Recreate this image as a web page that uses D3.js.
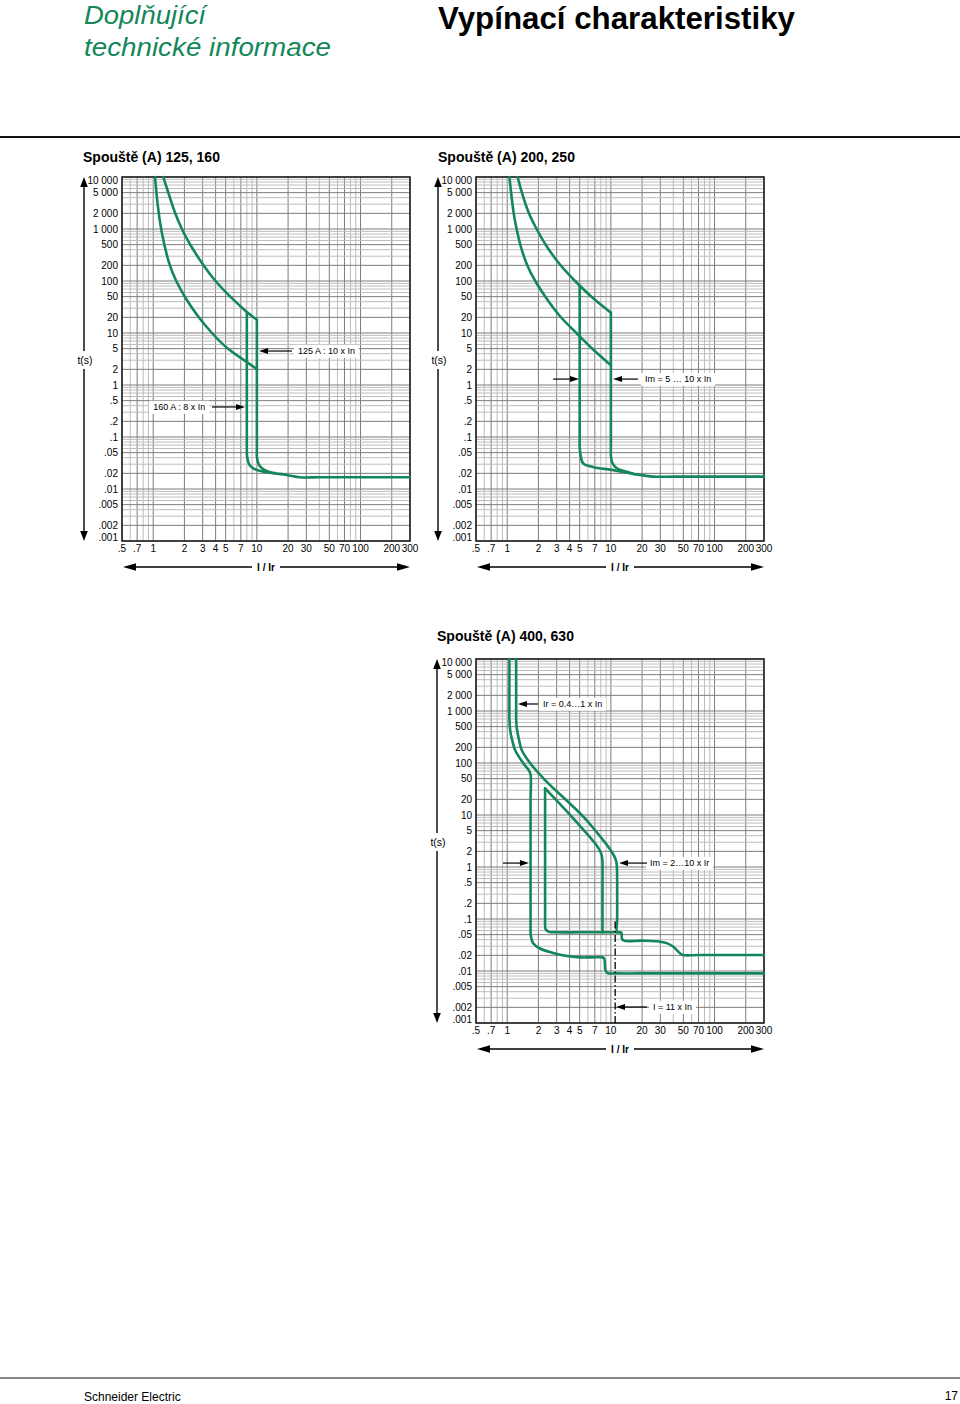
<!DOCTYPE html>
<html><head><meta charset="utf-8">
<script src="https://cdn.jsdelivr.net/npm/d3@7"></script>
<style>body{margin:0;background:#fff}svg{display:block}</style>
</head><body>
<svg id="c" width="960" height="1404"></svg>
<script>
// ---------- axis data ----------
const xDomain = [0.5, 300];
const yDomain = [0.001, 10000];
const xTickValues = [0.5,0.7,1,2,3,4,5,7,10,20,30,50,70,100,200,300];
const xTickLabels = [".5",".7","1","2","3","4","5","7","10","20","30","50","70","100","200","300"];
const yTickValues = [10000,5000,2000,1000,500,200,100,50,20,10,5,2,1,0.5,0.2,0.1,0.05,0.02,0.01,0.005,0.002,0.001];
const yTickLabels = ["10 000","5 000","2 000","1 000","500","200","100","50","20","10","5","2","1",".5",".2",".1",".05",".02",".01",".005",".002",".001"];
const chartTitles = ["Spouště (A) 125, 160","Spouště (A) 200, 250","Spouště (A) 400, 630"];

// ---------- curves: [I/Ir, t(s)] ----------
// chart 1 : 125, 160  (thermal curves are smooth splines)
const c1UpperThermal = [[1.25,10000],[1.4,5000],[1.62,2000],[1.88,1000],[2.26,500],[3.04,200],[3.94,100],[5.5,50],[8,25],[10,18]];
const c1LowerThermal = [[1.04,10000],[1.1,3000],[1.18,1000],[1.42,200],[1.66,100],[2.0,50],[2.72,20],[3.67,10],[5.1,5],[8,2.8],[10,2]];
const c1Magnetic8 = [[8,25],[8,10],[8,1],[8,0.1],[8,0.06],[8.05,0.042],[8.4,0.03],[9.2,0.025],[10.7,0.0225],[13.4,0.0206],[19.4,0.0186],[26,0.0168],[40,0.0168],[100,0.0168],[300,0.0168]];
const c1Magnetic10 = [[10,18],[10,5],[10,0.5],[10,0.06],[10,0.042],[10.4,0.03],[11.2,0.025],[13.4,0.021],[15,0.0202]];
// chart 2 : 200, 250
const c2UpperThermal = [[1.26,10000],[1.38,5000],[1.6,2000],[1.92,1000],[2.32,500],[3.23,200],[4.5,100],[6.4,50],[10,24.6]];
const c2LowerThermal = [[1.05,10000],[1.09,5000],[1.15,2000],[1.23,1000],[1.33,500],[1.54,200],[1.85,100],[2.32,50],[3.23,20],[4.68,10],[6.53,5],[10,2.4]];
const c2Magnetic5 = [[5,82],[5,10],[5,1],[5,0.1],[5,0.065],[5.1,0.045],[5.4,0.031],[6.8,0.0263],[10.2,0.0233],[16.5,0.0195],[25.7,0.0173],[40,0.0173],[100,0.0173],[300,0.0173]];
const c2Magnetic10 = [[10,24.6],[10,5],[10,0.5],[10,0.06],[10,0.045],[10.3,0.032],[11.4,0.025],[14.2,0.0214],[17,0.0193]];
// chart 3 : 400, 630
const c3LeftCurve = [[1.05,10000],[1.05,3000],[1.05,1000],[1.05,700],[1.07,420],[1.12,270],[1.19,178],[1.43,99],[1.62,72],[1.68,60],[1.68,20],[1.68,1],[1.68,0.1],[1.68,0.06],[1.69,0.048],[1.77,0.0346],[2.07,0.0271],[2.77,0.0222],[3.75,0.0194],[5.04,0.0183],[6.5,0.0183],[8.2,0.0183],[8.6,0.0175],[8.75,0.014],[8.85,0.0105],[9.3,0.0091],[11,0.009],[30,0.009],[300,0.009]];
const c3RightCurve = [[1.22,10000],[1.22,3000],[1.22,1000],[1.22,700],[1.24,450],[1.29,300],[1.38,178],[1.66,100],[2.32,47],[5.42,9.3],[8.3,3.4],[9.8,2.2],[10.8,1.6],[11.3,1.25],[11.45,0.9],[11.5,0.5],[11.5,0.1],[11.5,0.0555],[12.5,0.0555],[12.7,0.052],[12.8,0.042],[13.4,0.0383],[20,0.0383],[27.7,0.0372],[35,0.034],[40,0.0293],[46.5,0.0219],[49.3,0.0203],[70,0.0203],[300,0.0203]];
const c3InnerLeft = [[2.32,32.6],[2.32,10],[2.32,1],[2.32,0.1],[2.32,0.075],[2.36,0.062],[2.55,0.0565],[3,0.0555],[5,0.0555],[8,0.0555],[11.5,0.0555]];
const c3InnerDiag = [[2.32,32.6],[4.19,9.3],[7.3,2.6],[7.95,1.95],[8.2,1.6],[8.3,1.2],[8.3,0.5],[8.3,0.1],[8.3,0.0555]];
const c3Limit11 = [[11,0.09],[11,0.001]];

// ---------- annotations: text, t, arrow tail I, arrow head I, text start I ----------
const c1Notes = [
  {text:"125 A : 10 x In", t:4.5, tail:21.8, head:10.5, tx:24.9},
  {text:"160 A : 8 x In", t:0.378, tail:3.69, head:7.68, tx:1.0}
];
const c2Notes = [
  {text:"Im = 5 … 10 x In", t:1.3, tail:18.3, head:10.5, tx:21.3},
  {text:"", t:1.3, tail:2.77, head:4.93}
];
const c3Notes = [
  {text:"Ir = 0.4…1 x In", t:1364, tail:1.98, head:1.27, tx:2.21},
  {text:"Im = 2…10 x Ir", t:1.19, tail:22.3, head:12.0, tx:23.8},
  {text:"", t:1.19, tail:0.91, head:1.62},
  {text:"I = 11 x In", t:0.00203, tail:22.3, head:11.2, tx:25.5}
];

// ---------- drawing ----------
const GREEN = "#14875a";
const FONT = "'Liberation Sans', Arial, Helvetica, sans-serif";
const svg = d3.select("#c");

// header
svg.append("text").attr("x",84).attr("y",24).attr("fill",GREEN)
  .attr("font-family",FONT).attr("font-style","italic").attr("font-size",26)
  .attr("textLength",122).attr("lengthAdjust","spacingAndGlyphs").text("Doplňující");
svg.append("text").attr("x",84).attr("y",56).attr("fill",GREEN)
  .attr("font-family",FONT).attr("font-style","italic").attr("font-size",26)
  .attr("textLength",247).attr("lengthAdjust","spacingAndGlyphs").text("technické informace");
svg.append("text").attr("x",438).attr("y",29).attr("fill","#000")
  .attr("font-family",FONT).attr("font-weight","bold").attr("font-size",32)
  .attr("textLength",357).attr("lengthAdjust","spacingAndGlyphs").text("Vypínací charakteristiky");
svg.append("line").attr("x1",0).attr("x2",960).attr("y1",137).attr("y2",137).attr("stroke","#111").attr("stroke-width",2);

// footer
svg.append("line").attr("x1",0).attr("x2",960).attr("y1",1378).attr("y2",1378).attr("stroke","#111").attr("stroke-width",1.2);
svg.append("text").attr("x",84).attr("y",1401).attr("font-family",FONT).attr("font-size",12).text("Schneider Electric");
svg.append("text").attr("x",958).attr("y",1400).attr("text-anchor","end").attr("font-family",FONT).attr("font-size",12).text("17");

// grid values (all 1..9 multiples inside domains)
const gridX = [], gridY = [];
for (let k=-1;k<=2;k++) for (let m=1;m<=9;m++){const v=+(m*Math.pow(10,k)).toPrecision(3); if(v>=0.5&&v<=300) gridX.push(v);}
for (let k=-3;k<=4;k++) for (let m=1;m<=9;m++){const v=+(m*Math.pow(10,k)).toPrecision(3); if(v>=0.001&&v<=10000) gridY.push(v);}

function arrowHead(g, x, y, dir, len, half){ // dir: 1 = right, -1 = left
  g.append("path").attr("d",`M${x},${y}L${x-dir*len},${y-half}L${x-dir*len},${y+half}Z`).attr("fill","#000");
}
function vArrowHead(g, x, y, dir, len, half){ // dir: -1 up, 1 down
  g.append("path").attr("d",`M${x},${y}L${x-half},${y-dir*len}L${x+half},${y-dir*len}Z`).attr("fill","#000");
}

function drawPanel(p){
  const {x0,x1,y0,y1,title,titleX,titleY,axisX,thermal,curves,notes,limit} = p;
  const g = svg.append("g");
  const x = d3.scaleLog().domain(xDomain).range([x0,x1]);
  const y = d3.scaleLog().domain(yDomain).range([y1,y0]);
  const major = new Set(xTickValues.map(String));
  const majorY = new Set(yTickValues.map(String));

  g.append("text").attr("x",titleX).attr("y",titleY).attr("font-family",FONT)
    .attr("font-weight","bold").attr("font-size",14).text(title);

  // grid
  g.selectAll(".gx").data(gridX).join("line")
    .attr("x1",d=>x(d)).attr("x2",d=>x(d)).attr("y1",y0).attr("y2",y1)
    .attr("stroke",d=>major.has(String(d))?"#7d7d7d":"#bdbdbd").attr("stroke-width",1);
  g.selectAll(".gy").data(gridY).join("line")
    .attr("x1",x0).attr("x2",x1).attr("y1",d=>y(d)).attr("y2",d=>y(d))
    .attr("stroke",d=>majorY.has(String(d))?"#7d7d7d":"#bdbdbd").attr("stroke-width",1);
  g.append("rect").attr("x",x0).attr("y",y0).attr("width",x1-x0).attr("height",y1-y0)
    .attr("fill","none").attr("stroke","#222").attr("stroke-width",1.6);

  // tick labels
  g.selectAll(".ty").data(yTickValues).join("text")
    .attr("x",x0-4).attr("y",d=>Math.max(y0+3.5,Math.min(y1-3.5,y(d)))+3.6)
    .attr("text-anchor","end").attr("font-family",FONT).attr("font-size",10)
    .text((d,i)=>yTickLabels[i]);
  g.selectAll(".tx").data(xTickValues).join("text")
    .attr("x",d=>x(d)).attr("y",y1+11)
    .attr("text-anchor","middle").attr("font-family",FONT).attr("font-size",10)
    .text((d,i)=>xTickLabels[i]);

  // vertical axis arrow with t(s)
  const ax = axisX, ym = y0 + (y1-y0)*0.5;
  g.append("line").attr("x1",ax).attr("x2",ax).attr("y1",y0+6).attr("y2",ym-8).attr("stroke","#000").attr("stroke-width",1.4);
  g.append("line").attr("x1",ax).attr("x2",ax).attr("y1",ym+10).attr("y2",y1-6).attr("stroke","#000").attr("stroke-width",1.4);
  vArrowHead(g, ax, y0, -1, 10, 3.8);
  vArrowHead(g, ax, y1, 1, 10, 3.8);
  g.append("text").attr("x",ax+1).attr("y",ym+5).attr("text-anchor","middle")
    .attr("font-family",FONT).attr("font-size",10.5).text("t(s)");

  // horizontal axis arrow with I / Ir
  const hy = y1+26, hm = x(Math.sqrt(0.5*300));
  const hx0 = x0+1, hx1 = x1;
  g.append("line").attr("x1",hx0+8).attr("x2",hm-14).attr("y1",hy).attr("y2",hy).attr("stroke","#000").attr("stroke-width",1.4);
  g.append("line").attr("x1",hm+14).attr("x2",hx1-8).attr("y1",hy).attr("y2",hy).attr("stroke","#000").attr("stroke-width",1.4);
  arrowHead(g, hx0, hy, -1, 13, 3.8);
  arrowHead(g, hx1, hy, 1, 13, 3.8);
  g.append("text").attr("x",hm).attr("y",hy+4).attr("text-anchor","middle")
    .attr("font-family",FONT).attr("font-weight","bold").attr("font-size",10).text("I / Ir");

  // curves
  const smooth = d3.line().x(d=>x(d[0])).y(d=>y(d[1])).curve(d3.curveBasis);
  const line = d3.line().x(d=>x(d[0])).y(d=>y(d[1])).curve(d3.curveCatmullRom.alpha(0.5));
  const style = sel => sel.attr("fill","none").attr("stroke",GREEN).attr("stroke-width",2.6)
    .attr("stroke-linejoin","round").attr("stroke-linecap","round");
  g.selectAll(".thermal").data(thermal).join("path").attr("d",smooth).call(style);
  g.selectAll(".curve").data(curves).join("path").attr("d",line).call(style);

  if (limit){
    g.append("path").attr("d",d3.line().x(d=>x(d[0])).y(d=>y(d[1]))(limit))
      .attr("fill","none").attr("stroke","#000").attr("stroke-width",1.3)
      .attr("stroke-dasharray","7,2.5,1.5,2.5");
  }

  // annotations
  notes.forEach(n=>{
    const yy = y(n.t);
    if (n.text){
      const tx = x(n.tx);
      const t = g.append("text").attr("x",tx).attr("y",yy+3.3).attr("font-family",FONT).attr("font-size",9).text(n.text);
      const bb = t.node().getBBox();
      g.insert("rect", function(){return t.node();})
        .attr("x",bb.x-4).attr("y",bb.y-1.5).attr("width",bb.width+8).attr("height",bb.height+3).attr("fill","#fff");
    }
    const xt = x(n.tail), xh = x(n.head);
    const dir = xh > xt ? 1 : -1;
    g.append("line").attr("x1",xt).attr("x2",xh-dir*6).attr("y1",yy).attr("y2",yy).attr("stroke","#000").attr("stroke-width",1.2);
    arrowHead(g, xh, yy, dir, 9, 3);
  });
}

drawPanel({x0:122,x1:410,y0:177,y1:541,title:chartTitles[0],titleX:83,titleY:162,axisX:84,
  thermal:[c1UpperThermal,c1LowerThermal],curves:[c1Magnetic8,c1Magnetic10],notes:c1Notes});
drawPanel({x0:476,x1:764,y0:177,y1:541,title:chartTitles[1],titleX:438,titleY:162,axisX:438,
  thermal:[c2UpperThermal,c2LowerThermal],curves:[c2Magnetic5,c2Magnetic10],notes:c2Notes});
drawPanel({x0:476,x1:764,y0:659,y1:1023,title:chartTitles[2],titleX:437,titleY:641,axisX:437,
  thermal:[],curves:[c3LeftCurve,c3RightCurve,c3InnerLeft,c3InnerDiag],notes:c3Notes,limit:c3Limit11});
</script>
</body></html>
